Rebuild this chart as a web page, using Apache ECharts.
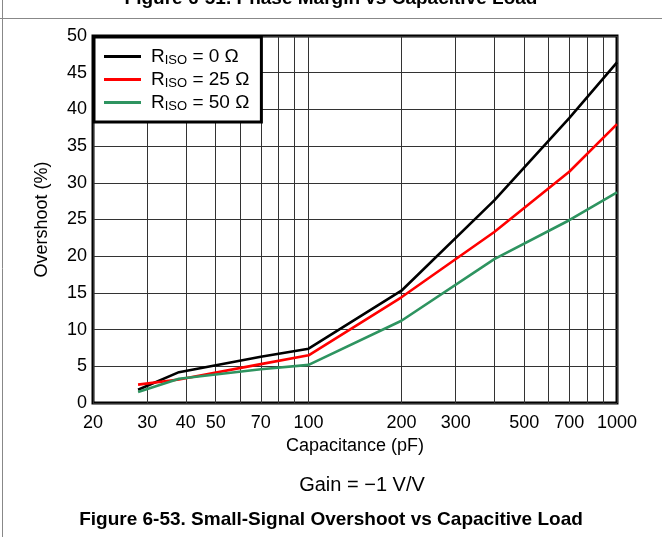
<!DOCTYPE html>
<html>
<head>
<meta charset="utf-8">
<script src="https://cdn.jsdelivr.net/npm/echarts@6/dist/echarts.min.js"></script>
<style>
  html, body { margin: 0; padding: 0; background: #fff; }
  #chart { width: 662px; height: 537px; }
</style>
</head>
<body>
<div id="chart"></div>
<script>
// capacitance (pF) where the curves were measured
var capacitance = [28, 38, 70, 100, 200, 400, 700, 1000];
// overshoot (%) for each isolation resistor
var riso0  = [1.8, 4.2, 6.3, 7.4, 15.3, 27.6, 38.8, 46.4];
var riso25 = [2.5, 3.2, 5.3, 6.5, 14.4, 23.3, 31.5, 38.0];
var riso50 = [1.5, 3.3, 4.6, 5.2, 11.2, 19.6, 24.9, 28.7];
var xTicks = [20, 30, 40, 50, 60, 70, 80, 90, 100, 200, 300, 400, 500, 600, 700, 800, 900, 1000];
var xLabels = [20, 30, 40, 50, 70, 100, 200, 300, 500, 700, 1000];

var chart = echarts.init(document.getElementById('chart'));
var font = 'Liberation Sans';

function pairs(ys) {
  return capacitance.map(function (c, i) { return [c, ys[i]]; });
}

var option = {
  animation: false,
  textStyle: { fontFamily: font },
  grid: {
    left: 93, right: 45, top: 36, bottom: 134,
    show: true, borderColor: '#000', borderWidth: 3, backgroundColor: 'transparent'
  },
  legend: {
    orient: 'vertical',
    left: 94, top: 37,
    padding: [9, 12, 9, 10],
    itemWidth: 37, itemHeight: 3, itemGap: 2,
    backgroundColor: '#fff', borderColor: '#000', borderWidth: 3,
    icon: 'rect',
    data: ['RISO = 0 Ω', 'RISO = 25 Ω', 'RISO = 50 Ω'],
    formatter: function (name) {
      return '{f|R}{s|ISO}{r| ' + name.slice(5) + '}';
    },
    textStyle: {
      fontFamily: font, color: '#000',
      rich: {
        f: { fontSize: 19, fontFamily: font, color: '#000', padding: [0, 0, 0, 5], lineHeight: 20 },
        r: { fontSize: 19, fontFamily: font, color: '#000', lineHeight: 20 },
        s: { fontSize: 13, fontFamily: font, color: '#000', padding: [8, 0, 0, 0], lineHeight: 20 }
      }
    }
  },
  xAxis: {
    type: 'log', logBase: 10, min: 20, max: 1000,
    axisLine: { show: false },
    axisTick: { show: false, customValues: xTicks },
    axisLabel: {
      customValues: xLabels, fontSize: 18, color: '#000', margin: 11, fontFamily: font,
      formatter: function (v) { return String(Math.round(v)); }
    },
    splitLine: { show: true, lineStyle: { color: '#333', width: 1 } },
    name: 'Capacitance (pF)', nameLocation: 'middle', nameGap: 34,
    nameTextStyle: { fontSize: 18, color: '#000', fontFamily: font }
  },
  yAxis: {
    type: 'value', min: 0, max: 50, interval: 5,
    axisLine: { show: false },
    axisTick: { show: false },
    axisLabel: { fontSize: 18, color: '#000', margin: 6, fontFamily: font },
    splitLine: { show: true, lineStyle: { color: '#333', width: 1 } },
    name: 'Overshoot (%)', nameLocation: 'middle', nameGap: 42,
    nameTextStyle: { fontSize: 18, color: '#000', fontFamily: font }
  },
  series: [
    { name: 'RISO = 0 Ω', type: 'line', data: pairs(riso0), showSymbol: false, color: '#000', lineStyle: { width: 2.6 } },
    { name: 'RISO = 25 Ω', type: 'line', data: pairs(riso25), showSymbol: false, color: '#ff0000', lineStyle: { width: 2.6 } },
    { name: 'RISO = 50 Ω', type: 'line', data: pairs(riso50), showSymbol: false, color: '#2e9460', lineStyle: { width: 2.6 } }
  ],
  graphic: [
    { type: 'line', shape: { x1: 0, y1: 18.5, x2: 662, y2: 18.5 }, style: { stroke: '#888', lineWidth: 1 } },
    { type: 'line', shape: { x1: 2.5, y1: 0, x2: 2.5, y2: 537 }, style: { stroke: '#888', lineWidth: 1 } },
    { type: 'text', x: 331, y: -1, style: { text: 'Figure 6-51. Phase Margin vs Capacitive Load', font: 'bold 19px "Liberation Sans"', fill: '#000', align: 'center', verticalAlign: 'middle' } },
    { type: 'text', x: 362, y: 485, style: { text: 'Gain = \u22121 V/V', font: '20px "Liberation Sans"', fill: '#000', align: 'center', verticalAlign: 'middle' } },
    { type: 'text', x: 331, y: 520, style: { text: 'Figure 6-53. Small-Signal Overshoot vs Capacitive Load', font: 'bold 19px "Liberation Sans"', fill: '#000', align: 'center', verticalAlign: 'middle' } }
  ]
};
chart.setOption(option);
</script>
</body>
</html>
